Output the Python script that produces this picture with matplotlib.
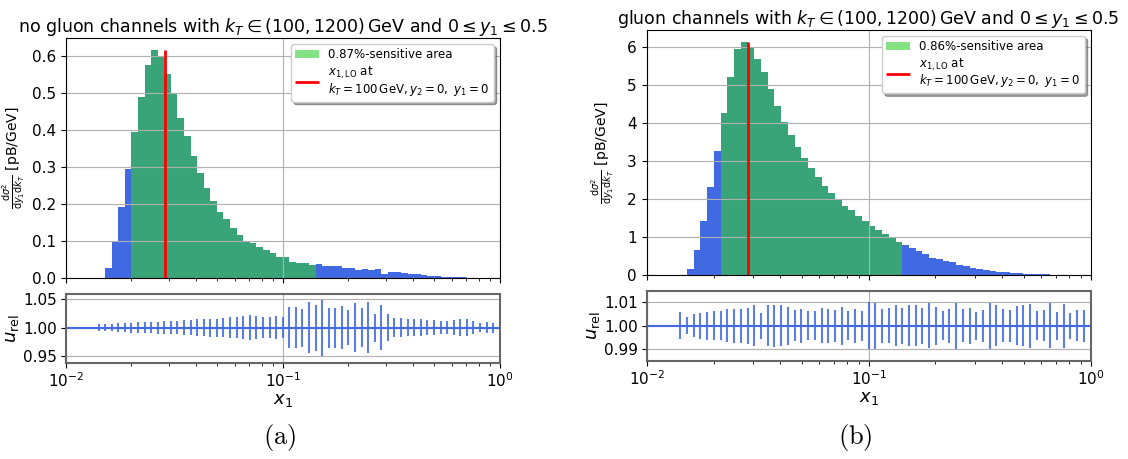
import numpy as np
import matplotlib
matplotlib.use("Agg")
import matplotlib.pyplot as plt

# 66 log-spaced bins in x1, 33 per decade
bin_edges = np.logspace(-2, 0, 67)
x_lo = 200.0 / 7000.0  # x1 at LO for kT = 100 GeV, y1 = y2 = 0

#Values for panel (a): no gluon channels [pB/GeV]
values_a = [0, 0, 0, 0, 0, 0.0005, 0.028, 0.1015, 0.194, 0.295,
            0.395, 0.490, 0.578, 0.618, 0.599, 0.553, 0.498, 0.434, 0.384, 0.330,
            0.286, 0.243, 0.210, 0.180, 0.159, 0.137, 0.118, 0.1015, 0.096, 0.085,
            0.076, 0.069, 0.058, 0.058, 0.044, 0.042, 0.042, 0.036, 0.039, 0.034,
            0.034, 0.034, 0.029, 0.029, 0.022, 0.024, 0.022, 0.024, 0.011, 0.016,
            0.016, 0.014, 0.012, 0.012, 0.009, 0.006, 0.006, 0.004, 0.004, 0.003,
            0.003, 0.002, 0.002, 0.001, 0.001, 0.001]
errors_a = [0, 0, 0, 0, 0, 0.0064, 0.0056, 0.0067, 0.0085, 0.0085,
            0.0088, 0.0094, 0.0096, 0.0102, 0.0105, 0.0108, 0.012, 0.012, 0.0132, 0.0137,
            0.0149, 0.0155, 0.0158, 0.0158, 0.0164, 0.0187, 0.0178, 0.0205, 0.0216, 0.0199,
            0.0187, 0.018, 0.0199, 0.0178, 0.0363, 0.0354, 0.0333, 0.0444, 0.0404, 0.0491,
            0.0351, 0.0351, 0.0371, 0.0301, 0.0424, 0.0339, 0.0442, 0.0246, 0.0389, 0.0231,
            0.0167, 0.0161, 0.0155, 0.0155, 0.0143, 0.0137, 0.0137, 0.012, 0.012, 0.0137,
            0.0155, 0.0149, 0.0117, 0.008, 0.009, 0.0088]
sensitive_a = (10, 38)
percent_a = "0.87"

#Values for panel (b): gluon channels [pB/GeV]
values_b = [0, 0, 0, 0, 0, 0.005, 0.17, 0.67, 1.43, 2.33,
            3.28, 4.28, 5.23, 5.96, 6.15, 6.02, 5.70, 5.36, 4.91, 4.46,
            4.04, 3.70, 3.36, 3.09, 2.83, 2.59, 2.35, 2.17, 2.00, 1.83,
            1.70, 1.56, 1.43, 1.30, 1.19, 1.09, 0.98, 0.87, 0.80, 0.72,
            0.64, 0.54, 0.46, 0.43, 0.38, 0.33, 0.27, 0.25, 0.19, 0.17,
            0.14, 0.11, 0.09, 0.07, 0.06, 0.045, 0.035, 0.025, 0.018, 0.013,
            0.010, 0.007, 0.005, 0.004, 0.003, 0.002]
errors_b = [0, 0, 0, 0, 0, 0.0057, 0.0037, 0.005, 0.0055, 0.0061,
            0.0063, 0.0063, 0.0071, 0.0073, 0.0073, 0.0078, 0.0088, 0.0056, 0.0088, 0.0091,
            0.0088, 0.0081, 0.0067, 0.0073, 0.0063, 0.0063, 0.0075, 0.0074, 0.0068, 0.0081,
            0.0063, 0.0072, 0.0065, 0.0101, 0.0099, 0.0073, 0.0076, 0.0088, 0.0077, 0.0088,
            0.0088, 0.0077, 0.0096, 0.0081, 0.0063, 0.0073, 0.0099, 0.007, 0.0077, 0.006,
            0.0068, 0.0099, 0.0087, 0.007, 0.0068, 0.0084, 0.0087, 0.0095, 0.0063, 0.0066,
            0.0097, 0.006, 0.0094, 0.0055, 0.0066, 0.0069]
sensitive_b = (11, 38)
percent_b = "0.86"

title_a = r"no gluon channels with $k_T \in (100, 1200)\,$GeV and $0 \leq y_1 \leq 0.5$"
title_b = r"gluon channels with $k_T \in (100, 1200)\,$GeV and $0 \leq y_1 \leq 0.5$"
lo_label = "$x_{1,\\mathrm{LO}}$ at\n$k_T = 100\\,$GeV$, y_2 = 0,\\ y_1 = 0$"


#Function to draw one histogram + relative uncertainty panel
def draw_panel(fig, main_rect, ratio_rect, values, errors, sensitive, percent,
               title, ratio_lim, ratio_ticks, ylabel_x, urel_x, title_pad):
    values = np.array(values)
    errors = np.array(errors)
    left = bin_edges[:-1]
    widths = np.diff(bin_edges)
    lo, hi = sensitive

    ax = fig.add_axes(main_rect)
    ax.bar(left, values, width=widths, align="edge", color="royalblue")
    green = ax.bar(left[lo:hi], values[lo:hi], width=widths[lo:hi], align="edge",
                   color="limegreen", alpha=0.6, label=percent + "%-sensitive area")
    red = ax.vlines(x_lo, 0, values.max(), color="red", lw=2, label=lo_label)
    ax.set_xscale("log")
    ax.set_xlim(1e-2, 1)
    ax.grid(True)
    ax.tick_params(labelbottom=False, labelsize=11)
    ax.set_title(title, fontsize=12.5, pad=title_pad)
    ax.set_ylabel(r"$\frac{\mathrm{d}\sigma^2}{\mathrm{d}y_1\mathrm{d}k_T}$ [pB/GeV]", fontsize=10)
    ax.yaxis.set_label_coords(ylabel_x, 0.5)
    leg = ax.legend(handles=[green, red], loc="upper right", fontsize=8.5, shadow=True,
                    labelspacing=0.3, borderpad=0.35, handletextpad=0.8)
    for t in leg.get_texts():
        t.set_linespacing(0.95)

    rax = fig.add_axes(ratio_rect)
    rax.axhline(1.0, color="royalblue", lw=1.5)
    mask = errors > 0
    rax.errorbar(left[mask], np.ones(mask.sum()), yerr=errors[mask], fmt="none",
                 ecolor="royalblue", elinewidth=1.5, alpha=0.85)
    rax.set_xscale("log")
    rax.set_xlim(1e-2, 1)
    rax.set_ylim(*ratio_lim)
    rax.set_yticks(ratio_ticks)
    rax.yaxis.set_major_formatter(matplotlib.ticker.FormatStrFormatter("%.2f"))
    rax.grid(True)
    rax.tick_params(labelsize=11, pad=2.5)
    for spine in rax.spines.values():
        spine.set_color("0.4")
        spine.set_linewidth(1.5)
    rax.set_xlabel(r"$x_1$", fontsize=13, labelpad=1)
    rax.set_ylabel(r"$u_\mathrm{rel}$", fontsize=13)
    rax.yaxis.set_label_coords(urel_x, 0.5)


fig = plt.figure(figsize=(11.28, 4.59), dpi=100)

draw_panel(fig, [0.0582, 0.3937, 0.3848, 0.5229], [0.0582, 0.2092, 0.3848, 0.1503],
           values_a, errors_a, sensitive_a, percent_a, title_a,
           (0.938, 1.059), [0.95, 1.00, 1.05], -0.09, -0.103, -1)
draw_panel(fig, [0.5733, 0.4009, 0.3936, 0.5338], [0.5733, 0.2142, 0.3936, 0.1512],
           values_b, errors_b, sensitive_b, percent_b, title_b,
           (0.985, 1.0148), [0.99, 1.00, 1.01], -0.068, -0.1, 1)

fig.text(0.248, 0.046, r"$\mathrm{(a)}$", math_fontfamily="cm", fontsize=19,
         ha="center", va="center")
fig.text(0.758, 0.046, r"$\mathrm{(b)}$", math_fontfamily="cm", fontsize=19,
         ha="center", va="center")

fig.savefig("out.png", dpi=100)
